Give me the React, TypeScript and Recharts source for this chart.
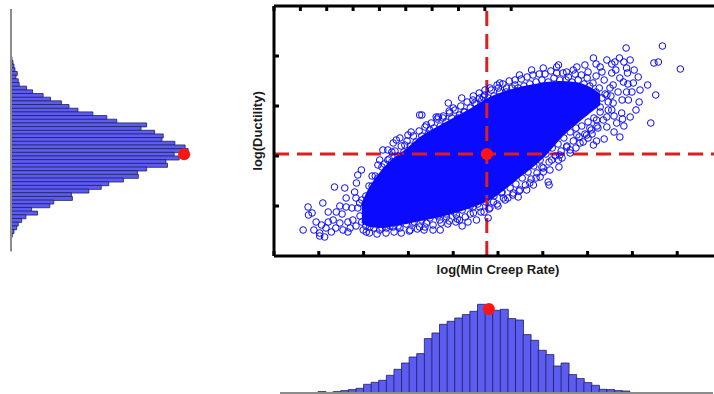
import React from 'react';
import {
  ComposedChart,
  BarChart,
  Bar,
  Area,
  Scatter,
  XAxis,
  YAxis,
  ReferenceLine,
  ReferenceDot,
} from 'recharts';

// ---------------------------------------------------------------------------
// Data
// ---------------------------------------------------------------------------

// log(Ductility) histogram, top bin first (empty bins keep the axis full height)
const ductilityCounts = [
  0, 0, 0, 0, 0, 0, 0, 0, 0, 0, 0, 0, 0,
  1, 2, 3, 4, 6.3, 5, 7.3, 8.3, 15.7, 21.7, 32.3, 39.7, 50.7, 58.3, 67.3, 82.3,
  96.3, 106.3, 136.3, 130.7, 144.3, 153, 151.7, 164.7, 175, 178, 164, 169, 155.7,
  157.3, 136.3, 127, 128, 113, 98.3, 90.7, 78.3, 60.7, 61.7, 43, 39, 20.7, 26.7,
  15, 10.7, 7.3, 5.7, 3, 1.3,
  0, 0, 0, 0,
];

// log(Min Creep Rate) histogram, left bin first
const creepRateCounts = [
  0, 0, 0,
  0.5, 0.5, 1.4, 0.6, 1.4, 2.4, 3.4, 4.7, 8.7, 10.7, 12.7, 17.7, 23.7, 30, 36,
  39.4, 54.4, 60, 68.7, 71.7, 75, 78.4, 81.7, 88.7, 83, 82.7, 83.7, 74.4, 73,
  58.4, 52.7, 42.7, 38.4, 27, 30, 18.4, 14.4, 10.4, 7.7, 3.7, 3.4, 2.4, 2,
  0, 0, 0, 0, 0, 0, 0, 0, 0, 0, 0,
];

// sample means (red markers)
const creepRateMean = 4.75;
const ductilityMean = 1.02;
const ductilityMeanBin = 39;
const ductilityMeanCount = 174;
const creepRateMeanBin = 27;
const creepRateMeanCount = 84;

const xTicks = [0, 1, 2, 3, 4, 5, 6, 7, 8, 9];
const yTicks = [0.5, 1, 1.5, 2];

// envelope of the saturated core of the cloud
const coreX = [1.96, 2.14, 2.43, 2.7, 2.95, 3.26, 3.71, 4.04, 4.44, 4.82, 5.16, 5.49, 5.83, 6.09, 6.38, 6.72, 7.05, 7.28];
const coreLow = [0.34, 0.3, 0.29, 0.31, 0.33, 0.36, 0.4, 0.44, 0.5, 0.57, 0.68, 0.8, 0.92, 1.03, 1.18, 1.32, 1.44, 1.52];
const coreHigh = [0.51, 0.68, 0.86, 0.98, 1.06, 1.18, 1.3, 1.38, 1.48, 1.58, 1.64, 1.68, 1.71, 1.73, 1.74, 1.73, 1.68, 1.61];

// individual samples visible around the core: [log(Min Creep Rate), log(Ductility)]
const lowerTail: [number, number][] = [
  [0.65, 0.26], [0.76, 0.49], [0.77, 0.41], [0.85, 0.43], [1.02, 0.23], [1.06, 0.31], [1.02, 0.2], [1.13, 0.19],
  [1.09, 0.53], [1.28, 0.24], [1.35, 0.69], [1.32, 0.36], [1.39, 0.44], [1.47, 0.33], [1.54, 0.26], [1.58, 0.68],
  [1.61, 0.49], [1.65, 0.24], [1.76, 0.36], [1.8, 0.64], [1.84, 0.73], [1.87, 0.81], [1.95, 0.86], [1.91, 0.53],
  [1.99, 0.26], [2.06, 0.24], [2.14, 0.29], [1.52, 0.42], [1.65, 0.34], [1.74, 0.48], [1.83, 0.58], [1.61, 0.58],
  [1.7, 0.28], [1.83, 0.3], [1.96, 0.34], [1.47, 0.5], [1.38, 0.28], [1.21, 0.34], [1.21, 0.44], [0.94, 0.34],
  [0.89, 0.26], [1.16, 0.28],
];

const upperFringe: [number, number][] = [
  [2.32, 0.91], [2.36, 0.96], [2.43, 1.06], [2.54, 1.06], [2.66, 1.13], [2.73, 1.16], [2.81, 1.18], [2.92, 1.11],
  [2.99, 1.21], [3.06, 1.24], [3.25, 1.41], [3.4, 1.31], [3.48, 1.26], [3.62, 1.39], [3.77, 1.38], [3.92, 1.43],
  [4.0, 1.48], [4.14, 1.41], [4.26, 1.44], [4.44, 1.56], [4.48, 1.53], [4.59, 1.58], [4.7, 1.61], [3.3, 1.41],
  [3.67, 1.39], [3.89, 1.53], [4.19, 1.58], [5.01, 1.68], [6.31, 1.89], [6.68, 1.86], [2.46, 0.92], [2.19, 0.8],
  [2.63, 1.04], [2.54, 0.96], [5.48, 1.81], [5.75, 1.86], [6.01, 1.88], [6.35, 1.91], [6.53, 1.84], [6.76, 1.89],
  [6.94, 1.91], [7.13, 1.98], [7.28, 1.89], [7.43, 1.96], [7.61, 1.94], [7.71, 1.98], [7.81, 1.94], [7.86, 2.08],
  [7.87, 1.88], [7.89, 1.83], [7.8, 1.74], [8.02, 1.73], [8.13, 1.79], [8.34, 1.71], [8.52, 1.61], [8.15, 1.54],
  [7.87, 1.64], [7.91, 1.56], [7.76, 1.43], [7.78, 1.37], [7.65, 1.33], [7.72, 1.19], [8.41, 1.33], [8.48, 1.93],
  [8.58, 1.94], [8.67, 2.1], [9.07, 1.87], [5.04, 1.73], [4.82, 1.68], [4.67, 1.59], [5.38, 1.71], [5.19, 1.68],
  [6.31, 1.83], [6.57, 1.79], [7.54, 1.83], [7.57, 1.71], [7.43, 1.61], [7.57, 1.53], [7.28, 1.49], [7.43, 1.39],
  [7.2, 1.36], [7.05, 1.28], [6.98, 1.21], [6.76, 1.21], [6.9, 1.14], [6.53, 1.09], [7.95, 1.39], [7.19, 1.8],
  [7.37, 1.76], [7.5, 1.68], [7.68, 1.64], [7.63, 1.86], [7.77, 1.56], [7.99, 1.64], [8.04, 1.86], [7.95, 1.96],
  [7.54, 1.92], [7.19, 1.92], [7.01, 1.84], [7.32, 1.84], [7.46, 1.46], [7.59, 1.4], [7.23, 1.28], [7.1, 1.22],
  [7.81, 1.3], [8.08, 1.46], [7.59, 1.24], [7.9, 1.72], [8.17, 1.66], [7.72, 1.78],
  [2.12, 0.7], [2.26, 0.8], [2.41, 0.89], [2.57, 0.97], [2.7, 1.05], [2.84, 1.1], [2.97, 1.15], [3.11, 1.2],
  [3.24, 1.25], [3.37, 1.29], [3.51, 1.33], [3.64, 1.37], [3.78, 1.4], [3.91, 1.45], [4.04, 1.46], [4.17, 1.5],
  [4.31, 1.54], [4.45, 1.6], [4.58, 1.63], [4.71, 1.66], [4.85, 1.66], [4.98, 1.71], [5.11, 1.72], [5.25, 1.75],
  [5.38, 1.76], [5.52, 1.77], [5.65, 1.79], [5.78, 1.81], [5.92, 1.82], [6.05, 1.82], [6.18, 1.85], [6.45, 1.83],
  [6.72, 1.82], [6.86, 1.81], [6.99, 1.78], [7.12, 1.73], [7.26, 1.68], [7.39, 1.62], [7.52, 1.6],
];

const lowerFringe: [number, number][] = [
  [2.36, 0.26], [2.51, 0.28], [2.66, 0.29], [2.81, 0.28], [2.95, 0.36], [3.1, 0.33], [3.25, 0.29], [3.4, 0.33],
  [3.55, 0.26], [3.7, 0.36], [3.85, 0.39], [4.07, 0.41], [4.14, 0.36], [4.33, 0.34], [4.52, 0.36], [4.44, 0.49],
  [4.59, 0.49], [7.43, 1.29], [7.37, 1.17], [7.2, 1.15], [7.13, 1.11], [6.83, 1.13], [6.61, 1.03], [6.38, 1.01],
  [6.36, 0.89], [6.12, 0.74], [6.14, 0.71], [6.01, 0.84], [5.79, 0.71], [5.71, 0.73], [5.45, 0.59], [5.34, 0.63],
  [6.2, 0.96], [5.94, 0.79], [5.64, 0.66], [5.08, 0.63], [4.9, 0.54], [5.12, 0.58], [4.82, 0.48], [5.98, 0.89],
  [6.35, 0.96], [6.61, 1.06], [3.88, 0.32], [4.2, 0.3], [4.06, 0.34], [3.71, 0.26], [3.35, 0.26], [3.04, 0.26],
  [2.68, 0.24], [4.38, 0.42], [4.69, 0.44], [4.78, 0.38], [5.0, 0.5], [5.22, 0.58], [5.49, 0.66], [5.85, 0.78],
  [6.16, 0.86], [6.43, 0.98], [6.74, 1.08], [7.01, 1.18],
  [7.35, 1.36], [7.21, 1.3], [7.08, 1.26], [6.94, 1.22], [6.81, 1.19], [6.68, 1.15], [6.54, 1.1], [6.41, 1.05],
  [6.28, 1.0], [6.14, 0.94], [6.01, 0.88], [5.87, 0.83], [5.74, 0.77], [5.61, 0.71], [5.47, 0.65], [5.33, 0.61],
  [5.16, 0.56], [4.98, 0.52], [4.8, 0.47], [4.62, 0.44], [4.45, 0.43], [4.27, 0.39], [4.09, 0.37], [3.91, 0.35],
  [3.73, 0.33], [3.55, 0.31], [3.37, 0.29], [3.2, 0.27], [3.02, 0.25], [2.84, 0.23], [2.5, 0.23], [2.3, 0.22],
  [2.13, 0.23],
];

const coreEdge: [number, number][] = [
  [2.05, 0.6], [2.19, 0.7], [2.32, 0.78], [2.5, 0.86], [2.63, 0.94], [2.77, 1.0], [2.9, 1.04], [3.04, 1.1],
  [3.17, 1.14], [3.3, 1.2], [3.44, 1.22], [3.57, 1.28], [3.71, 1.3], [3.84, 1.34], [3.97, 1.38], [4.11, 1.38],
  [4.24, 1.44], [4.38, 1.48], [4.51, 1.52], [4.64, 1.56], [4.78, 1.58], [4.91, 1.6], [5.04, 1.64], [5.18, 1.64],
  [5.31, 1.68], [5.45, 1.68], [5.58, 1.7], [5.71, 1.72], [5.85, 1.74], [5.98, 1.76], [6.12, 1.74], [6.25, 1.78],
  [6.38, 1.76], [6.52, 1.76], [6.65, 1.74], [6.79, 1.76], [6.92, 1.72], [7.05, 1.7], [7.19, 1.64], [7.32, 1.58],
  [7.46, 1.54], [7.54, 1.46], [7.28, 1.44], [7.14, 1.38], [7.01, 1.34], [6.87, 1.3], [6.74, 1.28], [6.61, 1.24],
  [6.47, 1.18], [6.34, 1.12], [6.21, 1.08], [6.07, 1.02], [5.94, 0.96], [5.8, 0.9], [5.67, 0.84], [5.54, 0.78],
  [5.4, 0.72], [5.27, 0.68], [5.09, 0.64], [4.91, 0.6], [4.73, 0.54], [4.55, 0.52], [4.38, 0.5], [4.2, 0.46],
  [4.02, 0.44], [3.84, 0.42], [3.66, 0.4], [3.48, 0.38], [3.3, 0.36], [3.13, 0.34], [2.95, 0.32], [2.77, 0.3],
  [2.59, 0.3], [2.41, 0.28], [2.23, 0.28], [2.05, 0.3], [1.92, 0.4], [1.87, 0.48], [1.96, 0.56],
];

// ---------------------------------------------------------------------------

const BAR_FILL = '#5c5cf0';
const BAR_STROKE = '#1e1e62';
const CLOUD_BLUE = '#0a0aff';
const MEAN_RED = '#ff1414';
const LINE_RED = '#d91f1f';
const FONT = '"Liberation Sans", Arial, Helvetica, sans-serif';

const ductilityData = ductilityCounts.map((count, bin) => ({ bin, count }));
const creepRateData = creepRateCounts.map((count, bin) => ({ bin, count }));
const coreData = coreX.map((x, i) => ({ x, band: [coreLow[i], coreHigh[i]] }));
const samples = [...lowerTail, ...upperFringe, ...lowerFringe, ...coreEdge].map(([x, y]) => ({ x, y }));

const RingDot = (props: any) => (
  <circle cx={props.cx} cy={props.cy} r={3.3} fill="none" stroke={CLOUD_BLUE} strokeWidth={1} />
);

// tick marks pointing into the plot frame
const inwardTick = (dx: number, dy: number) => (props: any) => (
  <line x1={props.x} y1={props.y} x2={props.x + dx} y2={props.y + dy} stroke="#000" strokeWidth={3} />
);

const frameLine = { stroke: '#000', strokeWidth: 3 };
const labelStyle = { fontFamily: FONT, fontSize: 13, fontWeight: 700, fill: '#1a1a1a' };

function DuctilityHistogram() {
  return (
    <BarChart
      width={210}
      height={260}
      layout="vertical"
      data={ductilityData}
      barCategoryGap={0}
      margin={{ top: 9, right: 0, bottom: 8.5, left: 10 }}
    >
      <XAxis type="number" domain={[0, 200]} hide />
      <YAxis
        type="category"
        dataKey="bin"
        width={1}
        tick={false}
        tickLine={false}
        axisLine={{ stroke: '#8c8c8c', strokeWidth: 2 }}
      />
      <Bar dataKey="count" fill={BAR_FILL} stroke={BAR_STROKE} strokeWidth={0.8} isAnimationActive={false} />
      <ReferenceDot x={ductilityMeanCount} y={ductilityMeanBin} r={6} fill={MEAN_RED} stroke="none" />
    </BarChart>
  );
}

function CreepRateHistogram() {
  return (
    <BarChart
      width={444}
      height={114}
      data={creepRateData}
      barCategoryGap={0}
      margin={{ top: 13, right: 1, bottom: 0, left: 10 }}
    >
      <XAxis
        type="category"
        dataKey="bin"
        height={1}
        tick={false}
        tickLine={false}
        axisLine={{ stroke: '#8c8c8c', strokeWidth: 2 }}
      />
      <YAxis domain={[0, 100]} hide />
      <Bar dataKey="count" fill={BAR_FILL} stroke={BAR_STROKE} strokeWidth={0.8} isAnimationActive={false} />
      <ReferenceDot x={creepRateMeanBin} y={creepRateMeanCount} r={6} fill={MEAN_RED} stroke="none" />
    </BarChart>
  );
}

function CloudPanel() {
  return (
    <ComposedChart
      width={740}
      height={290}
      data={coreData}
      margin={{ top: 0, right: 18, bottom: 10, left: 244 }}
    >
      <XAxis
        xAxisId="top"
        orientation="top"
        type="number"
        domain={[0, 10]}
        ticks={xTicks}
        interval={0}
        allowDataOverflow
        height={6}
        tickSize={0}
        tickMargin={0}
        tickLine={false}
        tick={inwardTick(0, 5)}
        axisLine={frameLine}
      />
      <XAxis
        type="number"
        dataKey="x"
        domain={[0, 10]}
        ticks={xTicks}
        interval={0}
        allowDataOverflow
        height={24}
        tickSize={0}
        tickMargin={0}
        tickLine={false}
        tick={inwardTick(0, -5)}
        axisLine={frameLine}
        label={{ value: 'log(Min Creep Rate)', position: 'insideBottom', offset: 6, style: labelStyle }}
      />
      <YAxis
        type="number"
        dataKey="y"
        domain={[0, 2.5]}
        ticks={yTicks}
        interval={0}
        allowDataOverflow
        width={30}
        tickSize={0}
        tickMargin={0}
        tickLine={false}
        tick={inwardTick(5, 0)}
        axisLine={frameLine}
        label={{
          value: 'log(Ductility)',
          angle: -90,
          position: 'insideLeft',
          offset: 13,
          style: { ...labelStyle, textAnchor: 'middle' },
        }}
      />
      <Area
        type="monotone"
        dataKey="band"
        stroke={CLOUD_BLUE}
        strokeWidth={2}
        fill={CLOUD_BLUE}
        fillOpacity={1}
        isAnimationActive={false}
      />
      <Scatter data={samples} shape={RingDot} isAnimationActive={false} />
      <ReferenceLine x={creepRateMean} stroke={LINE_RED} strokeWidth={3} strokeDasharray="15 8" />
      <ReferenceLine y={ductilityMean} stroke={LINE_RED} strokeWidth={3} strokeDasharray="15 8" />
      <ReferenceDot x={creepRateMean} y={ductilityMean} r={6} fill={MEAN_RED} stroke="none" />
    </ComposedChart>
  );
}

export default function App() {
  return (
    <div
      style={{
        position: 'absolute',
        left: 0,
        top: 0,
        width: 714,
        height: 394,
        overflow: 'hidden',
        background: '#fff',
        fontFamily: FONT,
      }}
    >
      <div style={{ position: 'absolute', left: 0, top: 0 }}>
        <DuctilityHistogram />
      </div>
      <div style={{ position: 'absolute', left: 0, top: 0 }}>
        <CloudPanel />
      </div>
      <div style={{ position: 'absolute', left: 270, top: 280 }}>
        <CreepRateHistogram />
      </div>
    </div>
  );
}
